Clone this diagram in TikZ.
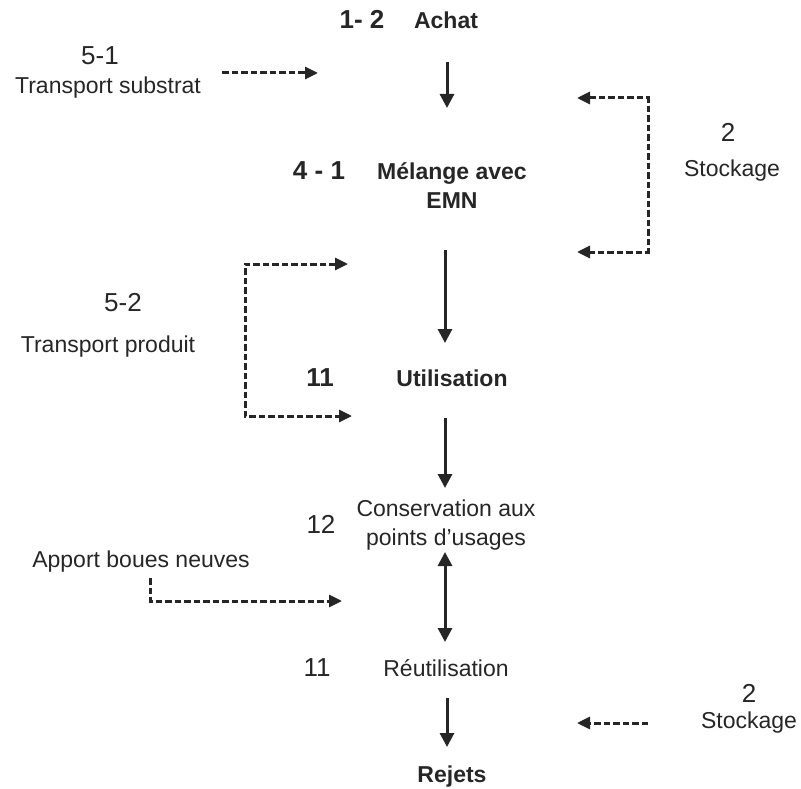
\documentclass[tikz,border=0pt]{standalone}
\usepackage{fontspec}
\setmainfont{Liberation Sans}
\usetikzlibrary{arrows.meta}
\definecolor{ink}{HTML}{262626}
\newcommand{\lblfont}{\fontsize{23}{28.5}\selectfont}
\newcommand{\numfont}{\fontsize{26}{30}\selectfont}
\begin{document}
\begin{tikzpicture}[x=1pt,y=-1pt,
  lbl/.style={anchor=base, inner sep=0pt, text=ink, font=\lblfont, align=center},
  lblb/.style={lbl, font=\bfseries\lblfont},
  num/.style={anchor=base, inner sep=0pt, text=ink, font=\numfont},
  numb/.style={num, font=\bfseries\numfont},
  flow/.style={draw=ink, line width=3pt, -{Triangle[length=14pt,width=14pt]}},
  both/.style={draw=ink, line width=3pt, {Triangle[length=14pt,width=14pt]}-{Triangle[length=14pt,width=14pt]}},
  feed/.style={draw=ink, line width=3pt, dash pattern=on 6.5pt off 3pt, -{Triangle[length=13pt,width=12pt]}},
  feedtwo/.style={feed, {Triangle[length=13pt,width=12pt]}-{Triangle[length=13pt,width=12pt]}},
]
\useasboundingbox (0,0) rectangle (801,789);

% main chain of steps (two-line labels are placed by their last baseline)
\node[numb] (n-achat) at (362,29) {1- 2};
\node[lblb] (achat) at (446,29) {Achat};
\node[numb] (n-melange) at (319,180) {4 - 1};
\node[lblb] (melange) at (452,208) {Mélange avec\\EMN};
\node[numb] (n-util) at (320,386) {11};
\node[lblb] (util) at (452,386) {Utilisation};
\node[num] (n-cons) at (321,533) {12};
\node[lbl] (cons) at (446,545) {Conservation aux\\points d’usages};
\node[num] (n-reut) at (317,676) {11};
\node[lbl] (reut) at (446,676) {Réutilisation};
\node[lblb] (rejets) at (452,782) {Rejets};

% side inputs
\node[num] (n-ts) at (100,65) {5-1};
\node[lbl] (ts) at (108,94) {Transport substrat};
\node[num] (n-st1) at (728,142) {2};
\node[lbl] (st1) at (732,177) {Stockage};
\node[num] (n-tp) at (123,311) {5-2};
\node[lbl] (tp) at (108,352) {Transport produit};
\node[lbl] (apport) at (141,567) {Apport boues neuves};
\node[num] (n-st2) at (749,702) {2};
\node[lbl] (st2) at (749,728) {Stockage};

% arrow end points
\coordinate (a1s) at (447,62);  \coordinate (a1e) at (447,108);
\coordinate (a2s) at (445,250); \coordinate (a2e) at (445,343);
\coordinate (a3s) at (445,418); \coordinate (a3e) at (445,488);
\coordinate (a4s) at (445,552); \coordinate (a4e) at (445,642);
\coordinate (a5s) at (447,698); \coordinate (a5e) at (447,747);

\coordinate (tss) at (222,73);  \coordinate (tse) at (318,73);
\coordinate (r-in1) at (577,98); \coordinate (r-col) at (648,175); \coordinate (r-in2) at (577,252);
\coordinate (l-in1) at (348,264); \coordinate (l-col) at (245,340); \coordinate (l-in2) at (352,416);
\coordinate (aps) at (150,578); \coordinate (ape) at (342,601);
\coordinate (st2s) at (648,723); \coordinate (st2e) at (577,723);

% solid flow arrows
\draw[flow] (a1s) -- (a1e);
\draw[flow] (a2s) -- (a2e);
\draw[flow] (a3s) -- (a3e);
\draw[both] (a4s) -- (a4e);
\draw[flow] (a5s) -- (a5e);

% dashed feeds
\draw[feed] (tss) -- (tse);
\draw[feedtwo] (r-in1) -| (r-col) |- (r-in2);
\draw[feedtwo] (l-in1) -| (l-col) |- (l-in2);
\draw[feed] (aps) |- (ape);
\draw[feed] (st2s) -- (st2e);
\end{tikzpicture}
\end{document}
